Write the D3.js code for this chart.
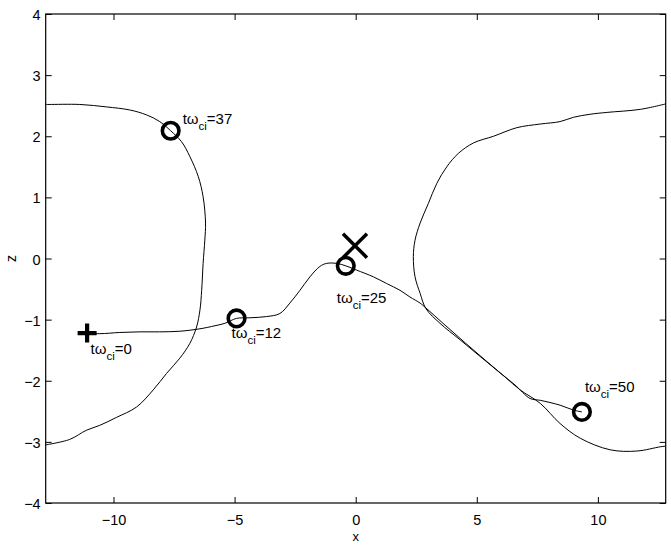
<!DOCTYPE html>
<html><head><meta charset="utf-8">
<script src="https://cdn.jsdelivr.net/npm/d3@7"></script>
<style>body{margin:0;background:#fff}svg{display:block}text{font-family:"Liberation Sans",Arial,Helvetica,sans-serif}</style>
</head><body><svg id="c" width="671" height="546"></svg>
<script>
// Trajectory segment 1: t=0 -> t=12 -> t=25 -> right edge
const seg1X = [-11.09,-10.57,-9.74,-8.91,-8.09,-7.26,-6.43,-5.81,-5.40,-4.92,-4.37,-3.68,-3.13,-2.72,-2.30,-1.89,-1.48,-1.20,-0.79,-0.41,0.04,0.73,1.28,1.83,2.24,2.66,2.90,3.69,4.52,5.34,6.17,6.79,7.62,8.44,9.27,10.51,11.61,12.58,12.81];
const seg1Z = [-1.22,-1.23,-1.21,-1.20,-1.20,-1.19,-1.15,-1.10,-1.06,-0.98,-0.97,-0.95,-0.90,-0.73,-0.52,-0.30,-0.13,-0.08,-0.08,-0.12,-0.19,-0.30,-0.41,-0.52,-0.63,-0.73,-0.81,-1.09,-1.38,-1.66,-1.94,-2.15,-2.37,-2.70,-2.94,-3.13,-3.15,-3.08,-3.07];
// Segment 2: wrapped at left edge, up through t=37, to left edge
const seg2X = [-12.81,-11.81,-11.12,-10.57,-9.88,-9.05,-8.36,-7.81,-7.26,-6.85,-6.57,-6.43,-6.36,-6.30,-6.23,-6.20,-6.30,-6.50,-6.85,-7.19,-7.64,-8.09,-8.64,-9.33,-10.29,-11.39,-12.66,-12.81];
const seg2Z = [-3.05,-2.96,-2.81,-2.73,-2.60,-2.43,-2.15,-1.88,-1.63,-1.39,-1.12,-0.84,-0.52,-0.08,0.30,0.58,1.01,1.34,1.67,1.91,2.09,2.24,2.35,2.43,2.48,2.52,2.52,2.52];
// Segment 3: wrapped at right edge, down to t=50
const seg3X = [12.81,11.75,10.37,9.68,8.99,8.44,7.62,6.65,5.69,4.86,4.24,3.76,3.35,3.00,2.66,2.45,2.38,2.45,2.66,2.90,3.48,4.31,5.13,5.96,6.58,7.20,7.62,8.44,8.99,9.34];
const seg3Z = [2.53,2.44,2.39,2.36,2.31,2.24,2.20,2.14,2.00,1.89,1.72,1.50,1.23,0.90,0.58,0.30,0.03,-0.30,-0.57,-0.82,-1.06,-1.33,-1.60,-1.87,-2.07,-2.29,-2.32,-2.40,-2.48,-2.51];

const startX = -11.09, startZ = -1.22;      // "+" marker
const crossX = -0.03, crossZ = 0.21;        // "x" marker
const circleX = [-4.92, -0.41, -7.64, 9.34];
const circleZ = [-0.98, -0.12, 2.09, -2.51];
const labelTimes = ["0", "12", "25", "37", "50"];
const labelX = [-11.09, -4.92, -0.41, -7.64, 9.34];
const labelZ = [-1.22, -0.98, -0.12, 2.09, -2.51];

const xTicks = [-10, -5, 0, 5, 10];
const zTicks = [-4, -3, -2, -1, 0, 1, 2, 3, 4];

const svg = d3.select("#c");
const L = 45.7, R = 665.7, T = 14, B = 503;
const x = d3.scaleLinear().domain([-12.8, 12.8]).range([L, R]);
const y = d3.scaleLinear().domain([-4, 4]).range([B, T]);

// axes
const fs = "14.5px";
const gb = svg.append("g").attr("transform", `translate(0,${B})`)
  .call(d3.axisBottom(x).tickValues(xTicks).tickSizeInner(-6).tickSizeOuter(0).tickPadding(12));
const gt = svg.append("g").attr("transform", `translate(0,${T})`)
  .call(d3.axisTop(x).tickValues(xTicks).tickSizeInner(-6).tickSizeOuter(0).tickFormat(""));
const gl = svg.append("g").attr("transform", `translate(${L},0)`)
  .call(d3.axisLeft(y).tickValues(zTicks).tickSizeInner(-6).tickSizeOuter(0).tickPadding(5));
const gr = svg.append("g").attr("transform", `translate(${R},0)`)
  .call(d3.axisRight(y).tickValues(zTicks).tickSizeInner(-6).tickSizeOuter(0).tickFormat(""));
[gb, gt, gl, gr].forEach(g => {
  g.select(".domain").remove();
  g.selectAll("line").attr("stroke", "#000");
  g.selectAll("text").attr("fill", "#000").style("font-size", fs)
   .style("font-family", '"Liberation Sans",Arial,sans-serif');
});
gl.selectAll("text").attr("dy", "0.38em");

svg.append("rect").attr("x", L).attr("y", T).attr("width", R - L).attr("height", B - T)
  .attr("fill", "none").attr("stroke", "#000").attr("stroke-width", 1.2);

svg.append("text").attr("x", (L + R) / 2).attr("y", 541).attr("text-anchor", "middle")
  .style("font-size", "13px").text("x");
svg.append("text").attr("transform", `translate(16,${y(0)}) rotate(-90)`).attr("text-anchor", "middle")
  .style("font-size", "14px").text("z");

// clip
svg.append("clipPath").attr("id", "clip").append("rect")
  .attr("x", L).attr("y", T).attr("width", R - L).attr("height", B - T);

const line = d3.line().x(d => x(d[0])).y(d => y(d[1])).curve(d3.curveCatmullRom.alpha(0.5));
const plot = svg.append("g").attr("clip-path", "url(#clip)");
[[seg1X, seg1Z], [seg2X, seg2Z], [seg3X, seg3Z]].forEach(([xs, zs]) => {
  plot.append("path").attr("d", line(xs.map((v, i) => [v, zs[i]])))
    .attr("fill", "none").attr("stroke", "#000").attr("stroke-width", 1);
});

// markers
const m = svg.append("g");
const px = x(startX), pz = y(startZ);
m.append("path").attr("d", `M${px - 9.5},${pz}H${px + 9.5}M${px},${pz - 9.5}V${pz + 9.5}`)
  .attr("stroke", "#000").attr("stroke-width", 4.2);
const cx = x(crossX), cz = y(crossZ);
m.append("path").attr("d", `M${cx - 12},${cz - 12}L${cx + 12},${cz + 12}M${cx - 12},${cz + 12}L${cx + 12},${cz - 12}`)
  .attr("stroke", "#000").attr("stroke-width", 3.5);
m.selectAll("circle.c").data(circleX).join("circle")
  .attr("cx", d => x(d)).attr("cy", (d, i) => y(circleZ[i])).attr("r", 8.3)
  .attr("fill", "none").attr("stroke", "#000").attr("stroke-width", 3.6);

// labels
const offs = [[3.5, 21], [-5, 20], [-9, 37], [12, -7], [3, -20]];
labelTimes.forEach((t, i) => {
  const tx = svg.append("text").attr("x", x(labelX[i]) + offs[i][0]).attr("y", y(labelZ[i]) + offs[i][1])
    .style("font-size", "15px");
  tx.append("tspan").text("tω");
  tx.append("tspan").attr("dy", 6).style("font-size", "11.5px").text("ci");
  tx.append("tspan").attr("dy", -6).text("=" + t);
});
</script></body></html>
